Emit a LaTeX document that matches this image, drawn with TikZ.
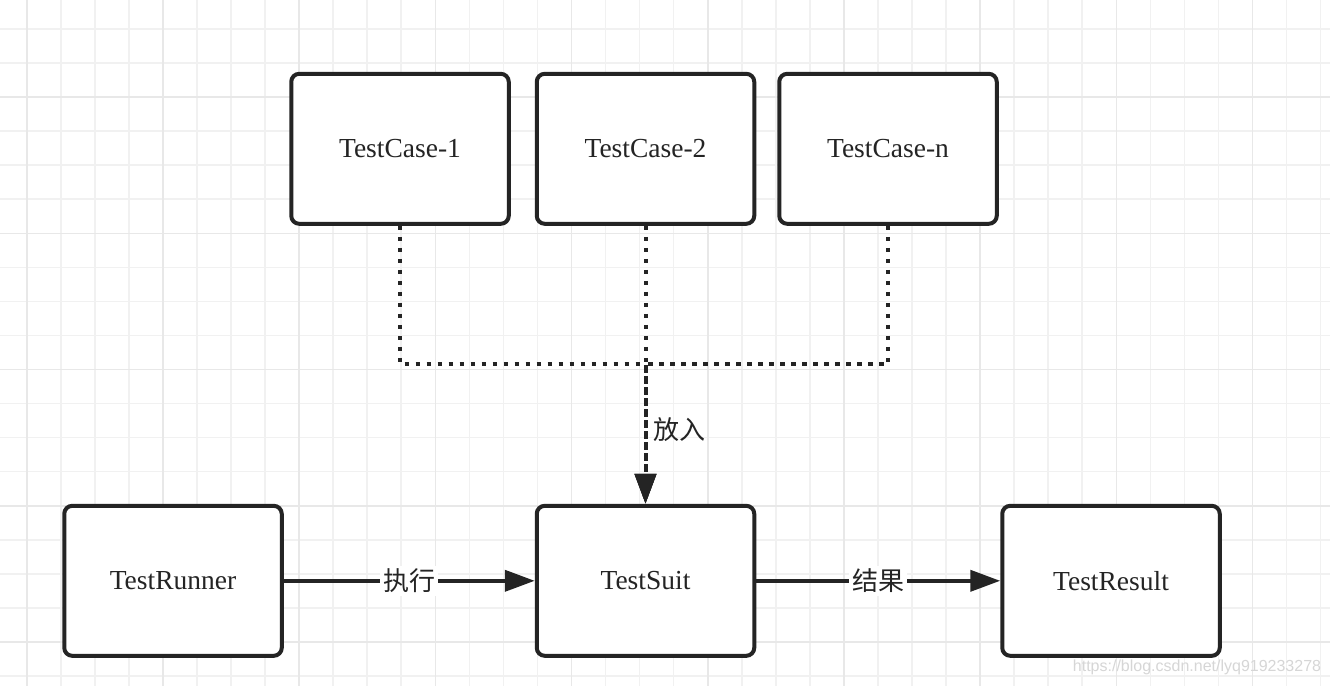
\documentclass[tikz,border=0pt]{standalone}
\usepackage{fontspec}
\setmainfont{Liberation Serif}
\newfontfamily\cjk{Noto Sans CJK SC}
\newfontfamily\wmfont{Liberation Sans}
\usetikzlibrary{arrows.meta, positioning, calc}
\definecolor{ink}{HTML}{242424}
\definecolor{gridminor}{HTML}{F1F1F1}
\definecolor{gridmajor}{HTML}{E8E8E8}
\tikzset{
  every picture/.style={line width=4pt},
  tbox/.style={draw=ink, rounded corners=8pt, fill=white, minimum width=217.5pt,
    minimum height=150pt, inner sep=0pt, text=ink, font=\fontsize{27.5}{33}\selectfont},
  conn/.style={draw=ink, -{Triangle[length=30pt, width=21pt]}},
  dotconn/.style={conn, dash pattern=on 4.5pt off 6.5pt},
  elbl/.style={font=\cjk\fontsize{26}{30}\selectfont, text=ink, fill=white, inner sep=3pt},
  gline/.style={line width=1.6pt}
}

\begin{document}
\begin{tikzpicture}[x=1pt, y=-1pt, node distance=24pt]
    \useasboundingbox (0,0) rectangle (1330,686);
    \fill[white] (0,0) rectangle (1330,686);
    % background grid
    \foreach \i in {0,...,38} \draw[gline, gridminor] ({26.7+34.05*\i},0) -- ++(0,686);
    \foreach \j in {0,...,19} \draw[gline, gridminor] (0,{29+34.05*\j}) -- ++(1330,0);
    \foreach \i in {0,4,...,36} \draw[gline, gridmajor] ({26.7+34.05*\i},0) -- ++(0,686);
    \foreach \j in {2,6,...,18} \draw[gline, gridmajor] (0,{29+34.05*\j}) -- ++(1330,0);

    \node [tbox] (suit) at (645.5,580.8) {TestSuit};
    \node [tbox, left=251pt of suit] (runner) {TestRunner};
    \node [tbox, right=244pt of suit] (result) {TestResult};
    \node [tbox, above=278pt of suit] (case2) {TestCase-2};
    \node [tbox, left=of case2] (case1) {TestCase-1};
    \node [tbox, right=21pt of case2] (casen) {TestCase-n};
    \coordinate [below=138.5pt of case2] (join);

    \draw[dotconn] (case1) |- (join) -- (suit);
    \draw[dotconn] (casen) |- (join) -- (suit);
    \draw[dotconn] (case2) -- (join) -- node[elbl, right, fill=none, xshift=3pt, pos=0.47]{放入} (suit);
    \draw[conn] (runner) -- node[elbl]{执行} (suit);
    \draw[conn] (suit) -- node[elbl]{结果} (result);

    \node [font=\wmfont\fontsize{16}{18}\selectfont, text=black!16] (mark) at (1197,667) {https://blog.csdn.net/lyq919233278};
  \end{tikzpicture}
\end{document}
